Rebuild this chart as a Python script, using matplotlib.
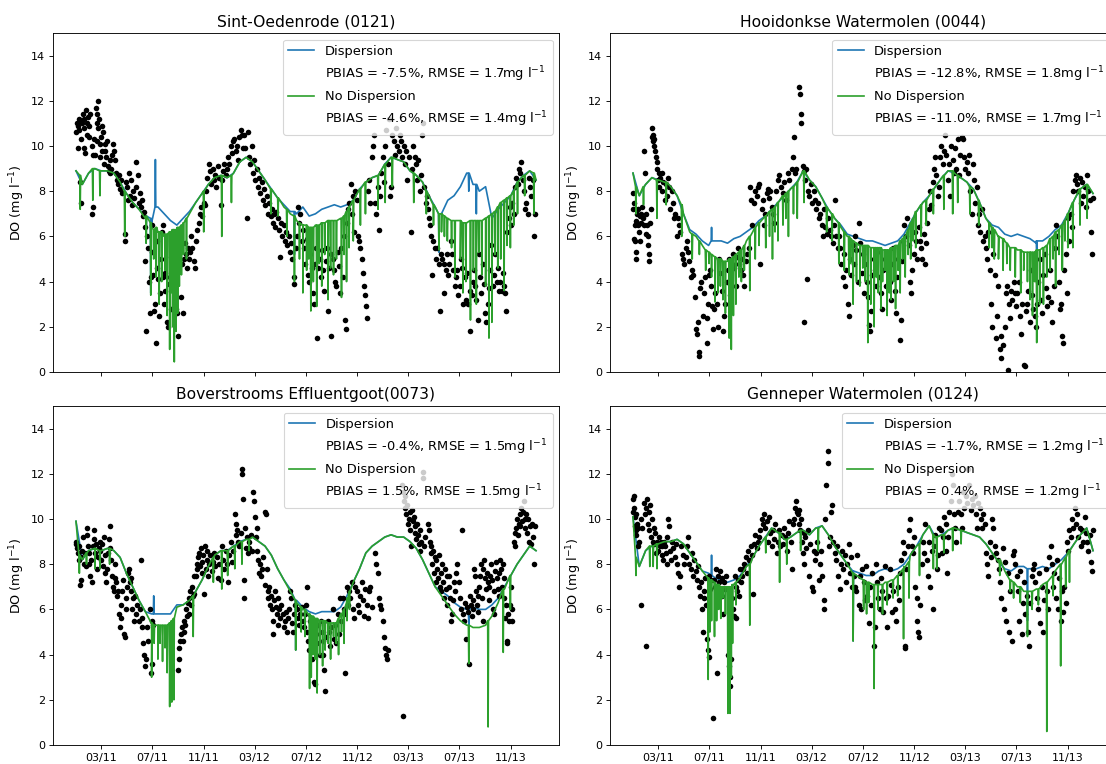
import numpy as np
import pandas as pd
import matplotlib
matplotlib.use("Agg")
import matplotlib.pyplot as plt
import matplotlib.dates as mdates
from matplotlib.lines import Line2D

START = pd.Timestamp("2011-01-01")
# model output sampled every 15 days, 2011-01-01 .. 2013-12-31
knot_dates = pd.date_range("2011-01-01", "2013-12-31", freq="15D")

titles = ["Sint-Oedenrode (0121)", "Hooidonkse Watermolen (0044)",
          "Boverstrooms Effluentgoot(0073)", "Genneper Watermolen (0124)"]
pbias_disp = [-7.5, -12.8, -0.4, -1.7]
rmse_disp = [1.7, 1.8, 1.5, 1.2]
pbias_nodisp = [-4.6, -11.0, 1.5, 0.4]
rmse_nodisp = [1.4, 1.7, 1.5, 1.2]

# ---------------- Sint-Oedenrode ----------------
sint_green = [8.9, 8.3, 8.8, 9.0, 8.9, 8.9, 8.8, 8.4,
              7.9, 7.5, 7.2, 6.8, 6.4, 6.2, 6.0, 6.1,
              6.3, 6.5, 7.0, 7.5, 7.9, 8.3, 8.6, 8.7,
              8.6, 8.8, 9.3, 9.5, 9.3, 8.9, 8.5, 8.1,
              7.7, 7.3, 7.0, 6.7, 6.5, 6.4, 6.5, 6.6,
              6.7, 6.7, 6.8, 7.1, 7.6, 8.1, 8.4, 8.6,
              8.7, 9.2, 9.5, 9.4, 9.3, 8.9, 8.7, 8.4,
              7.8, 7.3, 7.0, 6.8, 6.7, 6.7, 6.6, 6.7,
              6.7, 6.8, 7.0, 7.3, 7.6, 7.8, 8.4, 8.7,
              8.9, 8.5]
sint_blue = [8.9, 8.3, 8.8, 9.0, 8.9, 8.9, 8.8, 8.4,
             7.9, 7.5, 7.2, 6.9, 6.6, 7.3, 7.0, 6.7,
             6.5, 6.8, 7.1, 7.5, 7.9, 8.3, 8.6, 8.7,
             8.6, 8.8, 9.3, 9.5, 9.3, 8.9, 8.5, 8.1,
             7.7, 7.4, 7.1, 7.0, 7.3, 6.9, 7.0, 7.2,
             7.3, 7.4, 7.3, 7.4, 7.6, 8.1, 8.4, 8.6,
             8.7, 9.2, 9.5, 9.4, 9.3, 8.9, 8.7, 8.4,
             7.8, 7.3, 7.0, 7.6, 7.8, 8.2, 8.8, 8.3,
             8.0, 8.2, 6.8, 7.2, 7.5, 7.8, 8.4, 8.7,
             8.9, 8.5]
# short excursions: (day, level around it, extreme value)
sint_green_dips = [(10, 8.7, 7.2), (40, 9.0, 7.6), (57, 8.9, 7.8), (116, 8.0, 6.0),
                   (167, 6.9, 5.7), (178, 6.6, 3.4), (185, 6.3, 5.0), (191, 6.4, 4.2),
                   (198, 6.2, 3.0), (204, 6.2, 4.0), (212, 6.1, 4.5), (217, 6.1, 2.5),
                   (223, 6.2, 1.0), (226, 6.2, 3.5), (230, 6.3, 2.0), (234, 6.3, 0.45),
                   (238, 6.3, 1.8), (242, 6.4, 2.6), (246, 6.4, 3.8), (251, 6.5, 4.3),
                   (256, 6.6, 5.2), (263, 6.8, 5.0), (304, 8.0, 6.2), (347, 8.7, 6.0),
                   (370, 8.7, 7.5), (464, 8.1, 7.0), (481, 7.7, 6.9), (502, 7.2, 6.0),
                   (520, 6.9, 4.0), (532, 6.6, 5.0), (540, 6.5, 3.5), (549, 6.5, 4.5),
                   (554, 6.4, 5.0), (559, 6.4, 2.7), (565, 6.4, 4.0), (573, 6.5, 2.9),
                   (579, 6.5, 4.8), (585, 6.6, 3.8), (592, 6.6, 5.2), (600, 6.7, 3.2),
                   (606, 6.7, 4.6), (613, 6.7, 4.3), (620, 6.7, 5.0), (632, 6.8, 3.3),
                   (638, 6.9, 5.2), (644, 7.1, 4.0), (650, 7.3, 5.5), (660, 7.6, 5.8),
                   (677, 8.1, 6.5), (689, 8.4, 7.0), (719, 8.7, 7.2), (736, 9.2, 7.5),
                   (753, 9.5, 8.2), (804, 8.8, 7.5), (834, 8.0, 7.0), (851, 7.4, 6.5),
                   (864, 7.0, 5.4), (870, 7.0, 6.2), (877, 6.9, 6.0), (884, 6.8, 5.8),
                   (894, 6.7, 5.5), (902, 6.7, 4.2), (915, 6.7, 5.0), (921, 6.6, 3.5),
                   (928, 6.6, 4.0), (939, 6.7, 2.3), (946, 6.7, 4.5), (953, 6.7, 3.0),
                   (959, 6.7, 5.3), (966, 6.7, 4.3), (975, 6.8, 3.8), (983, 6.9, 1.5),
                   (990, 7.0, 2.2), (997, 7.1, 5.2), (1004, 7.3, 4.6), (1011, 7.5, 5.0),
                   (1019, 7.6, 3.6), (1026, 7.7, 5.6), (1034, 7.8, 5.5), (1042, 8.0, 6.5),
                   (1051, 8.4, 7.0), (1068, 8.7, 7.8), (1090, 8.8, 7.0)]
sint_blue_dips = [(167, 6.9, 5.7), (178, 6.8, 3.5), (189, 7.3, 9.4), (520, 7.1, 5.2),
                  (864, 7.0, 5.3), (935, 8.8, 8.0), (953, 8.3, 7.0)]
sint_obs = [(1,10.6),(2,11.0),(4,10.9),(5,9.9),(7,11.2),(8,10.7),(10,8.4),(11,11.1),(12,7.5),(13,10.3),
            (15,11.0),(17,11.4),(18,9.9),(19,10.8),(20,11.2),(22,9.7),(24,11.6),(26,11.0),(27,10.5),(29,11.3),
            (31,10.4),(32,10.9),(34,11.4),(38,10.0),(39,7.0),(40,7.3),(41,9.6),(43,10.3),(45,9.6),(47,11.7),
            (49,11.0),(50,10.2),(51,11.4),(52,12.0),(53,10.8),(55,11.2),(56,10.1),(58,9.5),(60,10.4),(62,10.9),
            (63,9.8),(65,10.6),(66,9.2),(68,10.1),(70,9.8),(72,9.5),(74,10.2),(76,9.1),(78,8.9),(80,9.4),
            (82,8.8),(84,9.0),(86,9.6),(88,10.1),(90,9.8),(92,9.4),(95,8.8),(98,8.5),(100,8.3),(103,8.7),
            (105,8.1),(107,8.5),(110,7.9),(116,6.1),(117,5.8),(119,8.4),(121,8.2),(124,7.6),(126,8.8),(128,7.8),
            (131,8.5),(134,7.4),(136,8.0),(139,7.7),(142,8.2),(144,9.3),(147,8.7),(150,7.5),(152,7.9),(155,7.3),
            (158,7.6),(160,6.9),(163,7.1),(164,6.4),(165,4.9),(166,1.8),(169,6.0),(172,5.5),(174,4.0),(176,2.6),
            (178,4.2),(180,5.3),(182,6.5),(184,4.3),(186,2.7),(188,3.0),(191,1.3),(192,4.6),(194,5.8),(196,4.1),
            (198,2.5),(200,3.5),(202,5.0),(204,6.2),(206,6.5),(207,4.2),(209,3.0),(211,3.6),(213,4.4),(217,2.2),
            (219,2.0),(221,3.9),(223,4.2),(225,5.1),(227,2.8),(229,3.8),(232,4.4),(234,5.6),(236,5.0),(238,2.8),
            (240,2.6),(242,1.6),(244,5.5),(246,5.2),(248,6.0),(251,3.3),(253,4.8),(255,2.6),(258,5.0),(260,5.7),
            (262,5.2),(264,4.6),(266,5.5),(268,5.0),(271,5.3),(274,6.0),(277,5.5),(280,4.9),(283,4.6),(286,5.8),
            (289,6.3),(292,6.6),(295,7.0),(298,7.3),(301,6.9),(304,7.5),(307,7.4),(310,8.0),(313,8.6),(316,9.2),
            (319,8.9),(322,8.3),(325,9.0),(328,8.5),(331,8.7),(334,8.2),(337,9.1),(340,8.6),(344,7.4),(347,8.5),
            (350,8.9),(353,9.2),(356,8.7),(359,9.0),(362,9.5),(365,9.2),(368,10.0),(371,9.7),(374,10.2),(377,10.3),
            (380,9.8),(383,10.0),(386,9.4),(389,10.4),(392,10.7),(395,10.5),(398,9.9),(400,10.5),(403,9.9),(406,6.8),
            (409,10.6),(412,9.5),(415,9.2),(418,10.0),(421,8.8),(424,9.4),(427,8.5),(430,9.0),(433,8.2),(436,8.6),
            (439,7.9),(442,8.4),(445,7.6),(448,8.1),(451,7.4),(454,7.8),(457,7.0),(460,7.5),(463,6.9),(466,7.2),
            (468,6.6),(471,7.0),(474,6.4),(477,7.1),(480,6.8),(483,6.3),(485,5.1),(488,6.6),(491,6.0),(494,6.5),
            (497,5.8),(500,6.2),(503,5.6),(506,6.0),(509,5.3),(512,5.7),(515,5.0),(518,4.2),(520,3.9),(523,5.5),
            (526,6.0),(528,7.3),(531,6.6),(534,7.0),(537,5.8),(540,6.3),(543,5.5),(546,4.8),(549,5.9),(552,4.3),
            (555,4.0),(558,5.2),(561,4.6),(564,3.5),(566,3.0),(569,4.8),(572,5.5),(574,1.5),(577,4.6),(580,5.0),
            (583,4.2),(586,5.4),(589,4.5),(591,3.6),(594,4.9),(597,5.5),(600,2.7),(603,4.6),(606,5.2),(608,1.6),
            (611,5.0),(614,4.5),(617,4.0),(620,3.8),(623,5.3),(626,4.7),(629,3.5),(632,5.5),(635,4.2),(638,6.0),
            (641,2.3),(642,1.9),(645,6.6),(648,7.2),(651,7.5),(654,8.3),(656,7.0),(659,7.8),(662,6.2),(665,8.0),
            (668,7.6),(671,6.0),(674,5.8),(677,5.5),(680,5.0),(683,4.4),(686,3.8),(688,3.4),(690,2.9),(692,2.4),
            (695,8.0),(698,8.5),(701,7.5),(704,9.5),(707,10.0),(709,10.5),(712,7.5),(715,7.0),(718,8.2),(721,6.3),
            (724,7.8),(727,8.8),(730,9.5),(733,8.4),(736,10.0),(739,10.7),(742,9.2),(744,11.2),(747,7.8),(750,8.2),
            (753,10.5),(756,10.2),(759,9.6),(762,10.8),(765,10.0),(768,9.8),(771,10.5),(774,10.2),(777,9.5),(780,10.0),
            (783,9.2),(786,9.8),(789,8.5),(792,9.5),(797,6.2),(800,9.0),(803,10.0),(806,9.5),(809,9.2),(812,8.5),
            (815,9.4),(818,8.0),(821,8.7),(824,10.5),(826,11.0),(829,8.2),(832,7.5),(835,7.8),(838,7.2),(841,6.8),
            (843,6.5),(846,6.0),(848,4.3),(851,5.8),(854,5.5),(857,5.0),(860,5.5),(863,4.8),(866,2.7),(869,5.2),
            (872,5.0),(875,4.8),(877,3.5),(880,4.5),(883,5.2),(886,4.3),(889,4.8),(892,5.8),(895,5.2),(898,4.5),
            (901,3.8),(904,4.2),(907,4.5),(910,3.4),(913,3.8),(916,5.0),(919,4.6),(922,3.0),(925,4.2),(928,3.2),
            (931,4.4),(934,3.0),(937,3.6),(939,1.8),(942,3.4),(945,4.0),(948,4.5),(950,3.8),(953,3.2),(956,2.3),
            (959,5.2),(962,4.2),(965,3.5),(968,4.8),(971,3.9),(974,2.6),(977,2.2),(980,3.0),(983,3.7),(986,4.5),
            (989,5.6),(992,3.8),(995,4.3),(998,5.2),(1001,4.0),(1004,4.6),(1007,3.6),(1010,4.0),(1013,3.6),(1016,4.4),
            (1019,3.8),(1022,3.5),(1024,2.7),(1027,6.2),(1030,6.8),(1033,7.3),(1036,6.5),(1039,7.5),(1042,7.0),(1045,8.2),
            (1048,8.6),(1051,8.3),(1054,9.0),(1057,8.8),(1060,9.3),(1063,8.5),(1066,8.0),(1069,7.2),(1072,7.5),(1075,7.0),
            (1078,8.6),(1081,8.2),(1084,7.8),(1087,8.5),(1090,6.0),(1093,7.0)]

# ---------------- Hooidonkse Watermolen ----------------
hooi_green = [8.8, 7.8, 8.3, 8.6, 8.5, 8.4, 8.2, 7.8,
              7.0, 6.2, 6.0, 5.6, 5.3, 5.1, 5.0, 4.9,
              5.1, 5.4, 5.8, 6.2, 6.6, 6.9, 7.2, 7.5,
              7.8, 8.1, 8.4, 8.9, 8.5, 8.2, 7.7, 7.2,
              6.8, 6.4, 6.0, 5.8, 5.6, 5.6, 5.5, 5.5,
              5.4, 5.5, 5.6, 6.0, 6.6, 7.1, 7.5, 7.8,
              8.2, 8.6, 8.9, 8.8, 8.6, 8.4, 8.1, 7.5,
              6.8, 6.3, 6.0, 5.8, 5.5, 5.4, 5.3, 5.3,
              5.4, 5.5, 5.8, 6.2, 6.5, 7.0, 7.6, 8.1,
              8.3, 7.9]
hooi_blue = [8.8, 7.8, 8.3, 8.6, 8.5, 8.4, 8.2, 7.8,
             7.0, 6.3, 6.1, 5.8, 5.6, 5.8, 5.8, 5.7,
             5.9, 6.0, 6.2, 6.4, 6.7, 6.9, 7.2, 7.5,
             7.8, 8.1, 8.4, 8.9, 8.5, 8.2, 7.7, 7.2,
             6.8, 6.5, 6.1, 6.0, 5.9, 5.8, 5.8, 5.7,
             5.6, 5.7, 5.8, 6.1, 6.6, 7.1, 7.5, 7.8,
             8.2, 8.6, 8.9, 8.8, 8.6, 8.4, 8.1, 7.5,
             6.8, 6.5, 6.4, 6.1, 6.0, 6.1, 6.0, 5.9,
             5.7, 5.8, 6.0, 6.3, 6.5, 7.0, 7.6, 8.1,
             8.3, 7.9]
hooi_green_dips = [(7, 8.2, 7.0), (25, 8.2, 7.4), (57, 8.5, 6.8), (79, 8.4, 7.4), (116, 7.4, 6.0),
                   (141, 6.1, 5.0), (158, 5.8, 5.2), (173, 5.4, 4.5), (181, 5.3, 4.8), (187, 5.2, 4.2),
                   (195, 5.1, 3.1), (202, 5.0, 3.5), (208, 5.0, 3.8), (214, 4.9, 3.2), (220, 4.9, 2.6),
                   (229, 5.0, 1.5), (234, 5.0, 1.0), (239, 5.1, 2.5), (245, 5.2, 3.0), (252, 5.3, 4.2),
                   (258, 5.4, 4.0), (265, 5.6, 4.5), (278, 6.0, 3.6), (291, 6.4, 5.0), (300, 6.6, 5.6),
                   (316, 6.9, 5.5), (325, 7.1, 6.0), (332, 7.2, 5.0), (338, 7.3, 6.2), (345, 7.5, 5.8),
                   (357, 7.8, 6.5), (364, 7.9, 6.8), (370, 8.0, 6.0), (382, 8.2, 7.0), (391, 8.4, 6.8),
                   (407, 8.9, 7.5), (461, 7.3, 6.2), (474, 7.0, 5.8), (490, 6.6, 4.8), (503, 6.2, 4.5),
                   (514, 6.0, 4.3), (518, 5.9, 4.8), (524, 5.8, 3.0), (532, 5.7, 4.0), (540, 5.6, 3.8),
                   (547, 5.6, 4.6), (553, 5.6, 4.0), (559, 5.6, 1.3), (566, 5.5, 3.0), (574, 5.5, 2.0),
                   (579, 5.5, 4.2), (584, 5.5, 3.5), (590, 5.5, 2.8), (594, 5.4, 4.0), (600, 5.4, 4.5),
                   (605, 5.4, 2.5), (610, 5.4, 3.5), (614, 5.5, 3.2), (620, 5.5, 4.0), (625, 5.6, 2.8),
                   (631, 5.6, 4.5), (636, 5.8, 3.5), (642, 5.9, 5.0), (648, 6.0, 4.2), (655, 6.3, 5.2),
                   (661, 6.6, 5.0), (667, 6.8, 5.8), (673, 7.1, 5.5), (686, 7.4, 6.0), (698, 7.6, 6.5),
                   (715, 8.1, 7.0), (740, 8.7, 7.2), (761, 8.9, 7.0), (773, 8.7, 7.5), (802, 8.2, 7.0),
                   (823, 7.6, 6.5), (848, 6.6, 5.5), (855, 6.4, 5.5), (860, 6.3, 5.0), (870, 6.0, 5.0),
                   (881, 5.9, 4.5), (890, 5.7, 4.8), (898, 5.5, 4.5), (910, 5.5, 4.2), (923, 5.4, 3.5),
                   (930, 5.3, 4.5), (939, 5.3, 4.0), (945, 5.3, 3.2), (951, 5.3, 2.5), (956, 5.3, 4.0),
                   (961, 5.4, 1.3), (968, 5.4, 3.0), (977, 5.5, 3.0), (985, 5.6, 4.2), (993, 5.9, 4.5),
                   (1000, 6.0, 5.0), (1006, 6.2, 3.8), (1014, 6.3, 5.2), (1022, 6.5, 4.5), (1028, 6.7, 5.8),
                   (1035, 7.0, 5.5), (1047, 7.5, 5.5), (1064, 8.1, 6.5), (1081, 8.3, 6.8)]
hooi_blue_dips = [(187, 5.8, 6.4), (961, 5.8, 5.0)]
hooi_obs = [(0,7.2),(1,7.9),(2,5.9),(3,7.5),(4,5.8),(5,6.5),(6,5.0),(7,5.3),(8,6.7),(9,7.0),
            (10,6.6),(12,7.2),(13,6.5),(14,6.2),(16,6.9),(17,5.8),(19,7.0),(20,6.6),(22,7.3),(24,6.8),
            (26,6.5),(27,9.8),(28,8.8),(30,7.0),(31,6.1),(33,6.5),(35,6.0),(36,5.6),(37,4.9),(38,5.2),
            (40,6.6),(42,7.2),(45,10.4),(46,10.8),(47,10.5),(48,10.2),(50,10.3),(51,10.0),(53,9.8),(55,9.5),
            (56,9.0),(58,9.3),(60,8.5),(62,8.8),(63,8.2),(65,8.6),(68,8.8),(70,8.0),(72,8.4),(75,7.6),
            (78,8.3),(80,7.8),(83,8.6),(86,8.2),(89,7.2),(92,8.0),(95,7.5),(98,6.8),(101,7.0),(104,6.0),
            (107,6.8),(110,6.5),(113,6.2),(116,5.2),(119,5.0),(122,4.8),(125,5.5),(128,5.8),(131,5.3),(134,4.9),
            (137,4.2),(141,4.5),(144,4.3),(148,3.3),(150,1.9),(152,1.7),(154,2.2),(156,0.9),(158,0.7),(160,3.7),
            (163,4.0),(166,2.5),(169,3.5),(172,4.2),(175,2.4),(177,1.3),(179,3.0),(181,4.3),(183,4.5),(185,3.8),
            (188,2.9),(191,1.9),(193,2.8),(196,3.5),(199,3.0),(202,2.0),(205,5.0),(208,4.4),(211,3.6),(214,1.8),
            (217,2.5),(220,3.0),(223,4.0),(226,4.5),(229,5.0),(232,3.4),(235,4.8),(238,5.2),(241,4.6),(244,3.8),
            (247,5.1),(250,5.5),(253,4.8),(256,4.5),(259,5.0),(262,4.3),(265,3.8),(268,4.9),(271,5.2),(275,5.5),
            (278,8.2),(281,7.6),(284,6.5),(288,7.5),(291,8.0),(294,7.8),(297,8.2),(300,8.3),(303,4.8),(306,7.2),
            (309,7.6),(312,6.5),(315,7.0),(318,7.9),(321,8.1),(324,7.7),(327,8.0),(330,7.3),(333,7.0),(336,6.6),
            (340,8.0),(344,8.5),(348,8.7),(352,8.2),(356,7.9),(360,8.4),(364,7.6),(368,8.8),(372,8.5),(378,9.0),
            (381,9.5),(383,10.4),(386,8.8),(389,9.0),(395,12.6),(397,12.3),(399,11.4),(401,11.0),(404,9.1),(406,8.9),
            (407,2.2),(410,8.5),(413,9.0),(415,4.1),(417,8.0),(420,7.8),(423,8.3),(426,7.5),(430,8.0),(433,7.6),
            (436,7.2),(440,7.5),(443,6.8),(446,7.0),(449,6.5),(452,6.0),(455,7.2),(458,6.4),(461,6.1),(465,6.8),
            (468,6.3),(472,6.0),(475,5.7),(478,6.5),(481,7.6),(484,6.0),(487,5.5),(490,6.0),(493,5.5),(496,4.8),
            (499,4.2),(502,5.2),(505,3.8),(508,4.5),(511,3.0),(514,2.5),(517,5.0),(520,4.3),(523,5.6),(526,4.8),
            (529,6.0),(532,5.4),(535,4.0),(538,6.6),(541,5.7),(544,4.4),(547,5.2),(550,3.5),(553,4.8),(556,4.0),
            (559,3.3),(562,2.1),(564,1.8),(567,2.7),(570,4.3),(573,5.0),(576,4.5),(579,3.8),(582,5.3),(585,4.2),
            (590,3.5),(593,2.8),(596,4.5),(599,5.0),(602,3.8),(605,4.6),(608,5.2),(611,4.0),(614,3.2),(617,4.8),
            (620,5.5),(623,3.6),(626,2.6),(629,4.2),(632,5.0),(635,1.4),(637,2.3),(640,4.9),(643,5.8),(646,6.5),
            (649,6.0),(653,6.8),(656,5.6),(659,4.0),(662,3.5),(665,4.5),(668,5.2),(671,6.2),(674,5.8),(677,5.0),
            (680,6.4),(683,5.8),(686,5.5),(689,5.0),(692,6.1),(695,4.8),(698,5.7),(701,6.6),(704,7.2),(707,8.0),
            (710,7.4),(713,8.4),(716,9.0),(719,9.5),(722,8.7),(725,7.8),(728,8.2),(731,9.5),(734,10.0),(737,9.2),
            (740,9.8),(743,10.5),(746,9.6),(749,8.5),(752,9.2),(755,7.8),(758,10.0),(761,9.4),(764,8.8),(767,9.9),
            (770,9.0),(773,10.3),(776,8.7),(779,9.6),(782,10.4),(785,10.3),(788,9.5),(791,9.0),(794,9.3),(797,8.8),
            (800,9.6),(803,8.0),(806,7.0),(809,9.2),(812,8.5),(815,7.5),(818,8.2),(821,6.5),(824,7.0),(827,6.2),
            (830,7.2),(834,5.8),(837,6.0),(840,5.5),(843,5.0),(846,6.2),(849,4.5),(852,3.0),(855,2.0),(858,5.2),
            (861,4.3),(864,1.5),(867,2.5),(870,3.8),(873,1.0),(875,1.6),(877,0.6),(880,1.2),(885,2.0),(888,3.5),
            (891,3.8),(893,0.1),(894,3.0),(897,2.4),(900,3.6),(903,3.2),(906,4.0),(909,3.5),(912,2.9),(915,3.5),
            (918,4.0),(921,2.5),(924,1.7),(927,3.0),(931,0.3),(933,0.25),(935,2.7),(938,3.0),(941,3.6),(944,2.2),
            (947,4.5),(950,3.4),(953,2.8),(956,2.5),(959,2.0),(962,3.0),(965,4.0),(968,5.0),(971,3.2),(974,2.6),
            (977,4.3),(980,5.2),(983,3.7),(986,2.9),(989,3.3),(992,4.5),(995,3.1),(998,2.2),(1001,3.8),(1004,5.5),
            (1007,6.5),(1010,6.0),(1013,4.0),(1016,2.8),(1019,3.0),(1022,1.6),(1024,1.3),(1027,4.5),(1030,5.2),(1033,3.5),
            (1036,6.8),(1039,5.8),(1042,7.0),(1045,6.4),(1048,8.0),(1051,8.5),(1054,8.7),(1057,8.3),(1060,8.0),(1063,8.6),
            (1066,7.5),(1069,8.4),(1072,7.8),(1075,8.2),(1078,7.3),(1081,8.7),(1084,8.0),(1087,7.6),(1090,6.2),(1092,5.2),
            (1094,7.7)]

# ---------------- Boverstrooms Effluentgoot ----------------
bove_green = [9.9, 8.2, 8.6, 8.7, 8.6, 8.7, 8.6, 8.3,
              7.6, 7.0, 6.4, 5.9, 5.4, 5.3, 5.3, 5.4,
              6.1, 6.2, 6.4, 6.8, 7.3, 7.9, 8.4, 8.6,
              8.6, 8.8, 9.0, 9.1, 9.2, 9.0, 8.8, 8.4,
              7.8, 7.3, 6.8, 6.3, 6.0, 5.7, 5.6, 5.5,
              5.4, 5.4, 5.8, 6.5, 7.2, 7.8, 8.5, 8.8,
              9.0, 9.2, 9.3, 9.2, 9.2, 9.0, 8.7, 8.2,
              7.6, 7.0, 6.6, 6.2, 5.8, 5.5, 5.3, 5.2,
              5.2, 5.3, 5.7, 6.3, 6.9, 7.5, 8.0, 8.4,
              8.8, 8.6]
bove_blue = [9.9, 8.2, 8.6, 8.7, 8.6, 8.7, 8.6, 8.3,
             7.6, 7.0, 6.4, 5.9, 5.8, 5.8, 5.8, 5.8,
             6.2, 6.2, 6.4, 6.8, 7.3, 7.9, 8.4, 8.6,
             8.6, 8.8, 9.0, 9.1, 9.2, 9.0, 8.8, 8.4,
             7.8, 7.3, 6.9, 6.4, 6.1, 5.9, 5.8, 5.9,
             5.9, 5.9, 6.1, 6.6, 7.2, 7.8, 8.5, 8.8,
             9.0, 9.2, 9.3, 9.2, 9.2, 9.0, 8.7, 8.2,
             7.6, 7.0, 6.8, 6.6, 6.3, 6.1, 6.0, 6.1,
             6.0, 6.0, 6.2, 6.5, 7.0, 7.5, 8.0, 8.4,
             8.8, 8.6]
bove_green_dips = [(8, 8.4, 7.6), (25, 8.5, 8.0), (45, 8.7, 7.8), (57, 8.6, 7.8), (80, 8.7, 8.0),
                   (180, 5.4, 3.0), (186, 5.3, 4.5), (195, 5.3, 3.8), (200, 5.3, 4.5), (206, 5.3, 3.7),
                   (212, 5.3, 4.3), (217, 5.3, 3.2), (223, 5.4, 1.7), (228, 5.5, 1.9), (233, 5.6, 2.0),
                   (279, 6.6, 4.8), (327, 8.3, 7.2), (347, 8.6, 6.9), (361, 8.6, 7.5), (378, 8.8, 7.8),
                   (395, 9.0, 8.0), (412, 9.1, 8.6), (523, 6.4, 4.2), (536, 6.1, 5.0), (545, 6.0, 4.8),
                   (556, 5.8, 2.5), (560, 5.7, 3.0), (564, 5.7, 4.0), (569, 5.6, 3.8), (574, 5.6, 2.3),
                   (580, 5.5, 4.0), (587, 5.5, 3.5), (593, 5.5, 4.2), (600, 5.4, 4.5), (606, 5.4, 3.8),
                   (613, 5.4, 4.8), (619, 5.4, 4.5), (625, 5.6, 4.0), (632, 5.8, 5.0), (638, 6.0, 4.5),
                   (645, 6.3, 5.5), (651, 6.8, 6.0), (935, 5.3, 3.6), (981, 5.5, 0.8), (1017, 6.9, 4.1),
                   (1034, 7.5, 6.0)]
bove_blue_dips = [(185, 5.8, 6.6), (523, 6.4, 4.2), (935, 6.0, 5.3)]
bove_obs = [(0,8.9),(1,9.0),(2,8.7),(4,8.5),(6,8.8),(8,8.2),(10,7.1),(11,7.3),(13,8.3),(15,8.6),
            (17,9.2),(19,8.0),(21,8.5),(23,7.9),(25,9.6),(26,9.3),(28,8.8),(30,8.0),(32,8.5),(34,7.5),
            (36,8.2),(38,7.2),(40,8.8),(42,9.5),(44,9.1),(46,8.5),(48,8.9),(50,7.8),(52,8.3),(54,8.7),
            (56,9.0),(58,8.6),(60,8.2),(62,8.9),(64,7.9),(66,9.2),(68,8.4),(70,7.6),(72,7.2),(74,7.8),
            (76,8.5),(78,9.1),(80,9.7),(82,8.7),(84,8.2),(86,7.5),(88,7.0),(90,6.8),(92,7.4),(94,8.0),
            (96,7.2),(98,6.6),(100,6.8),(102,5.8),(104,5.2),(106,6.2),(108,5.6),(110,6.8),(112,7.3),(114,4.9),
            (116,4.8),(118,6.0),(120,6.5),(122,7.0),(124,7.6),(126,7.8),(128,7.2),(130,6.8),(132,7.4),(134,6.0),
            (136,6.5),(138,5.5),(140,6.6),(143,5.8),(146,6.2),(149,5.5),(152,6.0),(154,8.2),(156,5.2),(158,5.6),
            (160,4.5),(162,4.0),(164,3.5),(166,3.8),(170,5.2),(172,4.6),(175,6.0),(178,3.2),(180,5.5),(182,3.6),
            (184,5.3),(243,3.3),(245,3.8),(246,4.3),(248,4.6),(250,4.9),(252,5.2),(254,4.6),(256,5.0),(258,5.5),
            (260,5.3),(262,6.0),(264,5.7),(266,6.3),(268,5.8),(270,6.5),(272,6.8),(274,6.2),(276,7.0),(278,6.6),
            (280,7.5),(282,6.7),(285,7.5),(287,8.0),(289,7.8),(291,8.3),(293,8.5),(295,7.9),(297,8.7),(299,8.1),
            (301,7.6),(303,8.4),(305,6.7),(307,8.8),(309,7.8),(311,8.2),(313,8.6),(315,7.5),(317,8.0),(320,8.4),
            (323,7.7),(326,8.1),(329,8.5),(332,7.9),(335,8.3),(338,7.4),(341,8.0),(344,7.3),(347,8.8),(350,8.2),
            (353,7.8),(356,8.6),(359,8.0),(362,7.2),(365,8.4),(368,9.0),(371,8.1),(374,8.6),(378,10.2),(380,9.8),
            (382,9.3),(384,9.5),(386,9.0),(388,8.8),(392,9.4),(395,12.2),(396,12.0),(398,10.9),(400,7.3),(401,6.5),
            (403,9.6),(405,8.7),(407,9.2),(409,8.5),(411,9.0),(413,8.7),(416,9.3),(419,8.6),(422,11.2),(424,10.8),
            (426,10.1),(428,9.2),(430,9.6),(432,8.6),(434,8.2),(436,7.6),(438,8.0),(440,7.5),(443,7.8),(446,8.3),
            (449,7.1),(451,10.3),(452,10.2),(454,7.8),(456,6.8),(458,6.5),(460,7.0),(462,6.2),(464,6.6),(466,6.0),
            (468,4.9),(470,5.5),(472,6.4),(474,6.8),(476,6.1),(478,5.8),(480,6.5),(482,5.3),(484,6.0),(486,5.6),
            (489,6.2),(492,5.8),(495,5.2),(498,5.5),(500,5.9),(503,5.0),(505,5.6),(507,6.0),(509,6.8),(511,6.5),
            (513,5.4),(516,5.0),(519,5.8),(522,6.2),(525,6.0),(528,5.6),(531,5.3),(534,5.8),(537,6.1),(540,5.5),
            (543,5.2),(545,5.8),(547,6.2),(549,7.0),(551,5.0),(553,4.6),(555,4.2),(557,5.5),(559,4.8),(561,3.8),
            (563,5.1),(565,4.4),(567,2.8),(569,2.7),(571,4.9),(574,4.5),(577,5.3),(580,4.0),(583,5.5),(585,5.0),
            (587,4.6),(589,4.0),(591,3.3),(593,2.4),(596,4.8),(599,5.5),(602,5.0),(605,4.4),(608,5.2),(611,6.0),
            (614,4.7),(617,5.3),(620,4.5),(623,5.8),(626,4.9),(629,6.5),(632,5.5),(635,6.5),(637,6.0),(639,5.8),
            (641,3.2),(644,7.0),(647,6.2),(650,6.8),(653,6.5),(656,7.2),(659,6.0),(662,5.6),(665,7.0),(668,6.8),
            (671,6.2),(674,5.9),(677,6.6),(680,7.2),(683,6.4),(686,5.7),(689,6.9),(692,6.2),(695,5.6),(698,6.8),
            (701,7.0),(704,6.1),(712,8.5),(715,8.0),(718,7.6),(721,6.5),(724,6.2),(727,6.0),(730,5.5),(733,4.8),
            (736,4.3),(738,4.0),(740,3.8),(742,4.2),(779,1.3),(776,11.5),(778,11.2),(780,10.8),(782,11.0),(784,10.5),
            (786,10.2),(788,10.6),(790,9.8),(792,10.0),(794,9.5),(796,10.3),(798,8.8),(800,10.4),(802,9.9),(804,10.1),
            (806,9.4),(808,9.7),(810,9.1),(812,9.8),(814,9.3),(816,8.9),(818,9.5),(820,8.6),(822,9.0),(825,12.1),
            (826,11.8),(828,8.8),(830,9.2),(838,9.8),(840,9.5),(842,9.0),(844,8.5),(846,8.8),(848,8.0),(850,8.6),
            (852,7.6),(854,8.3),(856,7.2),(858,8.2),(860,7.8),(862,7.4),(864,8.4),(866,7.0),(868,7.6),(870,6.8),
            (872,8.0),(874,7.2),(876,6.5),(878,7.8),(880,6.9),(882,7.5),(884,6.2),(887,7.5),(889,7.0),(891,6.5),
            (893,5.5),(895,5.8),(898,6.4),(900,7.2),(902,6.8),(905,7.6),(908,8.0),(911,7.2),(914,6.5),(917,6.0),
            (919,9.5),(921,5.8),(924,5.5),(926,6.3),(929,4.7),(931,6.1),(934,5.9),(936,3.6),(938,6.6),(940,6.2),
            (942,5.7),(944,6.4),(946,6.0),(948,7.8),(950,7.5),(952,6.8),(954,6.2),(956,5.9),(958,6.6),(960,7.0),
            (962,7.5),(964,8.0),(966,6.5),(968,5.5),(970,7.8),(972,8.2),(974,7.4),(976,6.9),(978,7.6),(980,7.2),
            (982,6.4),(984,7.0),(986,7.5),(988,8.0),(990,7.3),(992,6.0),(994,5.8),(996,6.8),(998,7.7),(1000,8.1),
            (1002,7.4),(1004,6.9),(1006,7.6),(1008,6.6),(1010,8.2),(1012,7.8),(1014,7.0),(1016,8.0),(1018,7.4),(1020,6.5),
            (1022,5.6),(1024,6.2),(1026,4.6),(1027,4.5),(1029,5.8),(1031,5.5),(1033,6.2),(1035,7.0),(1037,5.5),(1039,6.0),
            (1042,9.0),(1044,9.4),(1046,8.8),(1048,9.6),(1050,10.0),(1052,9.3),(1054,9.8),(1056,10.2),(1058,9.7),(1060,10.5),
            (1062,9.9),(1064,10.3),(1066,10.8),(1068,10.0),(1070,9.6),(1072,10.2),(1074,9.4),(1076,10.0),(1078,9.0),(1080,9.7),
            (1082,8.9),(1085,9.8),(1088,9.2),(1090,8.0),(1093,9.7)]

# ---------------- Genneper Watermolen ----------------
genn_green = [10.1, 7.9, 8.6, 8.8, 8.9, 9.0, 9.0, 9.1,
              8.9, 8.5, 8.1, 7.7, 7.4, 7.2, 7.0, 7.0,
              7.1, 7.4, 7.9, 8.3, 8.8, 9.2, 9.6, 9.4,
              9.1, 9.2, 9.4, 9.5, 9.3, 9.6, 9.7, 9.3,
              8.8, 8.4, 8.0, 7.6, 7.4, 7.2, 7.1, 7.1,
              7.2, 7.3, 7.5, 7.9, 8.4, 8.8, 9.3, 9.7,
              9.2, 9.3, 9.5, 9.6, 9.5, 9.4, 9.3, 9.2,
              8.9, 8.5, 8.1, 7.7, 7.3, 7.0, 6.8, 6.8,
              6.9, 7.1, 7.3, 7.7, 8.0, 8.5, 8.9, 9.3,
              9.6, 8.6]
genn_blue = [10.1, 7.9, 8.6, 8.8, 8.9, 9.0, 9.0, 9.1,
             8.9, 8.5, 8.1, 7.7, 7.6, 7.4, 7.3, 7.2,
             7.3, 7.5, 7.9, 8.3, 8.8, 9.2, 9.6, 9.4,
             9.1, 9.2, 9.4, 9.5, 9.3, 9.6, 9.7, 9.3,
             8.8, 8.4, 8.0, 7.7, 7.6, 7.5, 7.5, 7.7,
             7.8, 7.7, 7.8, 8.0, 8.4, 8.8, 9.3, 9.7,
             9.2, 9.3, 9.5, 9.6, 9.5, 9.4, 9.3, 9.2,
             8.9, 8.5, 8.1, 7.8, 7.7, 7.9, 7.9, 7.8,
             7.8, 7.9, 7.8, 8.0, 8.2, 8.5, 8.9, 9.3,
             9.6, 8.6]
genn_green_dips = [(7, 8.3, 7.5), (40, 8.8, 7.9), (48, 8.8, 7.9), (57, 8.9, 7.8), (179, 7.4, 2.9),
                   (183, 7.3, 5.0), (187, 7.3, 5.5), (194, 7.2, 4.8), (199, 7.1, 5.5), (204, 7.1, 6.0),
                   (209, 7.0, 5.6), (214, 7.0, 6.5), (220, 7.0, 5.8), (226, 7.0, 1.4), (231, 7.0, 1.4),
                   (234, 7.0, 3.0), (237, 7.1, 4.5), (245, 7.2, 6.2), (278, 8.0, 5.3), (316, 9.2, 8.5),
                   (349, 9.4, 7.2), (366, 9.1, 8.0), (399, 9.5, 8.6), (441, 9.6, 8.6), (524, 7.6, 4.6),
                   (549, 7.3, 6.0), (556, 7.2, 5.8), (561, 7.2, 6.3), (574, 7.1, 2.5), (583, 7.1, 6.0),
                   (594, 7.1, 5.8), (605, 7.2, 6.2), (619, 7.3, 6.5), (630, 7.5, 6.6), (644, 7.8, 4.7),
                   (657, 8.1, 6.5), (682, 8.9, 7.5), (715, 9.3, 7.8), (723, 9.2, 7.8), (740, 9.3, 8.5),
                   (761, 9.6, 8.6), (781, 9.5, 8.9), (873, 8.2, 7.5), (898, 7.3, 6.8), (906, 7.2, 6.5),
                   (922, 7.0, 6.3), (939, 6.8, 4.8), (950, 6.8, 6.0), (965, 6.9, 6.2), (985, 7.2, 0.6),
                   (1000, 7.5, 6.6), (1018, 8.0, 3.5), (1030, 8.3, 7.0), (1039, 8.6, 7.2)]
genn_blue_dips = [(187, 7.5, 8.4), (524, 7.7, 4.6), (939, 7.8, 5.5)]
genn_obs = [(0,10.3),(1,10.9),(2,11.0),(3,10.5),(4,10.1),(5,9.7),(6,10.2),(7,9.5),(8,9.3),(10,9.8),
            (11,8.8),(13,9.6),(15,9.0),(18,6.2),(20,10.0),(22,9.6),(26,10.7),(28,10.2),(31,4.4),(31,10.5),
            (33,10.9),(35,9.8),(37,10.3),(39,9.5),(41,10.6),(43,9.2),(45,10.0),(47,9.0),(49,9.6),(51,8.9),
            (53,9.4),(55,8.5),(57,9.0),(60,8.6),(62,9.2),(64,8.8),(66,9.0),(68,8.4),(70,8.8),(72,8.2),
            (74,9.0),(76,8.8),(78,8.5),(80,8.0),(82,9.2),(84,10.0),(86,9.7),(88,8.6),(90,8.2),(93,9.0),
            (96,8.7),(99,8.3),(102,8.9),(105,8.0),(108,7.6),(110,7.0),(112,7.5),(115,8.8),(118,8.4),(121,8.0),
            (125,8.3),(128,8.8),(131,9.2),(134,8.0),(137,7.8),(140,8.5),(143,7.5),(146,8.2),(149,7.7),(152,7.3),
            (155,7.9),(158,7.0),(160,6.6),(162,7.2),(164,6.0),(166,5.0),(168,6.8),(170,6.5),(172,7.4),(174,6.2),
            (176,4.7),(178,4.2),(180,3.9),(182,7.5),(184,6.9),(186,7.3),(191,1.2),(194,7.3),(196,7.0),(198,7.8),
            (200,6.8),(201,3.2),(203,7.5),(205,7.2),(207,7.7),(209,6.9),(211,7.4),(213,6.6),(215,5.8),(217,7.2),
            (220,6.9),(222,7.5),(226,4.0),(228,3.5),(230,3.0),(232,2.6),(234,3.8),(236,6.5),(238,6.0),(240,5.7),
            (242,7.5),(244,7.0),(246,5.6),(248,6.8),(250,7.3),(252,6.6),(254,7.8),(256,7.2),(259,7.5),(262,7.8),
            (265,8.0),(268,8.3),(271,7.6),(274,8.6),(277,8.2),(280,8.8),(283,8.4),(285,6.7),(288,8.9),(291,9.3),
            (294,8.7),(297,9.0),(300,9.2),(303,9.5),(306,10.0),(309,9.8),(312,10.2),(315,9.6),(318,9.9),(321,9.0),
            (324,10.1),(327,9.4),(330,8.8),(333,9.5),(336,9.1),(339,9.8),(342,8.5),(345,9.0),(348,9.5),(351,8.8),
            (354,9.3),(357,8.9),(360,9.6),(363,9.2),(366,8.6),(369,9.4),(372,9.9),(375,9.0),(378,7.8),(381,9.8),
            (384,10.0),(386,10.5),(388,10.8),(390,10.3),(392,10.2),(394,9.8),(396,10.4),(398,9.5),(400,10.0),(402,9.0),
            (404,8.5),(406,9.4),(408,8.0),(410,9.2),(413,8.7),(416,9.5),(419,7.5),(422,8.9),(425,7.0),(428,6.8),
            (430,8.6),(433,8.2),(436,8.5),(439,9.0),(442,7.3),(445,8.0),(448,8.6),(451,7.5),(454,6.0),(455,6.4),
            (457,10.0),(459,11.5),(463,12.5),(464,13.0),(466,8.8),(469,9.2),(472,10.3),(474,10.6),(477,9.0),(480,8.5),
            (483,8.2),(486,8.8),(489,7.5),(492,6.9),(495,8.0),(498,8.6),(501,7.8),(504,8.4),(507,7.2),(510,8.0),
            (513,8.9),(516,7.6),(519,8.3),(522,7.0),(525,7.5),(528,7.0),(531,6.8),(534,8.4),(537,6.2),(540,7.5),
            (543,6.0),(546,7.8),(549,7.2),(552,6.4),(555,7.9),(558,6.6),(561,5.4),(564,7.0),(567,6.2),(570,7.6),
            (573,4.4),(575,5.2),(578,8.0),(581,7.2),(584,6.5),(587,6.0),(590,7.4),(593,6.8),(596,5.9),(599,7.9),
            (602,6.5),(605,5.2),(608,6.6),(611,7.8),(614,7.1),(617,5.9),(620,6.8),(624,6.0),(627,5.5),(630,7.0),
            (633,6.4),(636,7.6),(639,8.2),(642,9.0),(645,8.5),(647,4.4),(648,4.3),(651,7.8),(654,8.8),(657,9.5),
            (660,10.0),(663,8.8),(666,8.5),(669,9.2),(672,7.0),(675,6.5),(677,5.5),(679,5.0),(681,4.8),(684,6.2),
            (687,8.0),(690,9.0),(693,8.5),(696,9.8),(699,8.2),(702,7.5),(705,9.0),(708,7.0),(711,8.6),(714,6.0),
            (717,8.8),(720,9.3),(723,7.8),(726,8.4),(729,9.6),(732,9.5),(735,8.5),(738,9.2),(741,10.1),(744,9.8),
            (746,8.6),(748,7.6),(750,9.2),(753,10.3),(756,10.8),(759,12.0),(761,11.5),(764,10.2),(767,9.6),(770,9.0),
            (774,10.3),(777,10.8),(780,10.2),(783,9.6),(786,11.2),(789,10.5),(792,11.0),(795,10.7),(798,12.2),(801,11.5),
            (804,10.4),(807,10.9),(810,10.6),(813,11.0),(816,10.2),(819,9.6),(822,10.7),(825,10.5),(828,10.0),(831,9.6),
            (834,10.2),(837,9.8),(840,8.5),(843,8.0),(846,7.5),(849,9.0),(852,8.3),(855,10.0),(858,9.6),(861,8.8),
            (865,8.5),(868,8.2),(871,7.8),(874,7.2),(877,6.5),(880,8.7),(883,6.0),(886,8.1),(889,5.5),(892,7.6),
            (895,5.0),(898,6.8),(901,4.6),(904,8.4),(907,8.6),(910,8.0),(913,7.5),(916,6.8),(919,5.5),(922,7.7),
            (925,4.9),(928,6.3),(931,7.2),(934,5.8),(937,6.6),(940,5.0),(943,4.4),(946,6.3),(949,7.5),(952,7.8),
            (955,8.0),(958,7.2),(961,6.5),(964,6.0),(967,7.6),(970,5.4),(973,7.0),(976,5.0),(979,6.4),(982,7.8),
            (985,6.8),(988,6.0),(991,8.3),(994,8.8),(997,8.0),(1000,7.0),(1003,7.6),(1006,6.5),(1009,8.2),(1012,6.0),
            (1015,7.4),(1018,5.5),(1021,6.8),(1024,5.9),(1027,7.0),(1030,6.3),(1033,9.0),(1036,8.6),(1039,9.5),(1042,9.2),
            (1045,10.0),(1048,9.6),(1051,10.5),(1054,9.8),(1057,10.2),(1060,9.2),(1063,9.6),(1066,8.8),(1069,9.5),(1072,9.0),
            (1075,10.1),(1078,9.4),(1081,9.0),(1084,8.6),(1087,9.3),(1090,8.1),(1092,7.7),(1095,9.5)]

panels = [
    (sint_blue, sint_blue_dips, sint_green, sint_green_dips, sint_obs),
    (hooi_blue, hooi_blue_dips, hooi_green, hooi_green_dips, hooi_obs),
    (bove_blue, bove_blue_dips, bove_green, bove_green_dips, bove_obs),
    (genn_blue, genn_blue_dips, genn_green, genn_green_dips, genn_obs),
]

BLUE = "#1f77b4"
GREEN = "#2ca02c"
knot_days = np.asarray((knot_dates - START).days)


def to_dates(days):
    return (START + pd.to_timedelta(np.asarray(days, dtype=float), unit="D")).to_numpy()


def series(base, dips):
    pts = list(zip(knot_days.tolist(), base))
    for d, level, extreme in dips:
        pts += [(d - 1, level), (d, extreme), (d + 1, level)]
    pts.sort(key=lambda p: p[0])
    days, vals = zip(*pts)
    return to_dates(days), np.asarray(vals)


W, H = 1106, 764
fig = plt.figure(figsize=(W / 80, H / 80), dpi=80)
boxes = [(53, 33), (610, 33), (53, 406), (610, 406)]
aw, ah = 506, 339

for i, (box, (bl, bld, gr, grd, obs)) in enumerate(zip(boxes, panels)):
    x0, y0 = box
    ax = fig.add_axes([x0 / W, 1 - (y0 + ah) / H, aw / W, ah / H])
    bx, by = series(bl, bld)
    gx, gy = series(gr, grd)
    od, ov = zip(*obs)
    ax.plot(bx, by, color=BLUE, lw=1.5, zorder=2)
    ax.plot(to_dates(od), ov, "o", color="k", ms=5, mew=0, zorder=3)
    ax.plot(gx, gy, color=GREEN, lw=1.5, zorder=4)
    ax.set_ylim(0, 15)
    ax.set_title(titles[i], fontsize=14)
    ax.set_ylabel("DO (mg l$^{-1}$)", fontsize=11.5)
    ax.tick_params(labelsize=10)
    ax.xaxis.set_major_locator(mdates.MonthLocator(bymonth=[3, 7, 11]))
    ax.xaxis.set_major_formatter(mdates.DateFormatter("%m/%y"))
    if i < 2:
        ax.tick_params(labelbottom=False)
    handles = [Line2D([], [], color=BLUE, lw=1.5),
               Line2D([], [], ls="none"),
               Line2D([], [], color=GREEN, lw=1.5),
               Line2D([], [], ls="none")]
    labels = ["Dispersion",
              f"PBIAS = {pbias_disp[i]:.1f}%, RMSE = {rmse_disp[i]:.1f}mg l$^{{-1}}$",
              "No Dispersion",
              f"PBIAS = {pbias_nodisp[i]:.1f}%, RMSE = {rmse_nodisp[i]:.1f}mg l$^{{-1}}$"]
    ax.legend(handles, labels, loc="upper right", fontsize=11.7)

fig.savefig("out.png", dpi=80)
